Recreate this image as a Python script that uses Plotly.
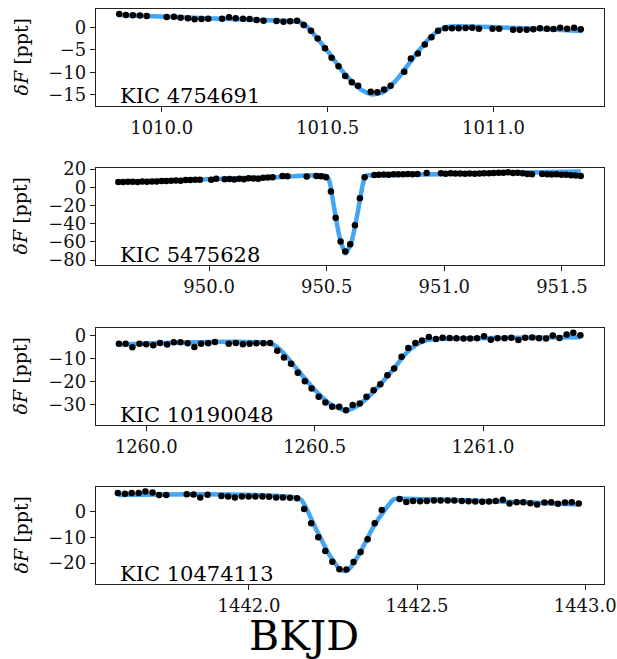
import plotly.graph_objects as go

# ---------------- data ----------------
names = ["KIC 4754691", "KIC 5475628", "KIC 10190048", "KIC 10474113"]

t1 = [1009.872, 1009.892, 1009.913, 1009.934, 1009.955, 1010.015, 1010.037, 1010.057, 1010.079, 1010.099,
      1010.120, 1010.140, 1010.182, 1010.203, 1010.223, 1010.245, 1010.265, 1010.286, 1010.307, 1010.346,
      1010.367, 1010.387, 1010.408, 1010.428, 1010.450, 1010.470, 1010.492, 1010.512, 1010.533, 1010.553,
      1010.573, 1010.592, 1010.630, 1010.650, 1010.670, 1010.690, 1010.731, 1010.751, 1010.772, 1010.793,
      1010.813, 1010.833, 1010.855, 1010.875, 1010.895, 1010.916, 1010.936, 1010.956, 1010.997, 1011.017,
      1011.059, 1011.079, 1011.100, 1011.120, 1011.140, 1011.161, 1011.181, 1011.201, 1011.222, 1011.243,
      1011.263]
f1 = [2.95, 2.75, 2.67, 2.6, 2.5, 2.3, 2.37, 2.15, 2.0, 1.78,
      1.85, 1.93, 1.93, 2.22, 2.0, 1.93, 1.85, 1.63, 1.48, 1.41,
      1.26, 1.33, 1.48, 0.52, -0.74, -2.5, -4.67, -6.74, -8.67, -10.8,
      -12.2, -13.0, -14.3, -14.4, -13.8, -13.0, -9.85, -6.9, -5.8, -3.8,
      -2.2, -0.74, -0.22, -0.22, -0.22, -0.15, -0.07, -0.3, -0.3, -0.3,
      -0.52, -0.52, -0.52, -0.44, -0.22, -0.3, -0.37, -0.07, -0.3, -0.07,
      -0.44]
m1x = [1009.872, 1010.140, 1010.408, 1010.425, 1010.45, 1010.50, 1010.55, 1010.60, 1010.635, 1010.67,
       1010.71, 1010.76, 1010.81, 1010.85, 1010.875, 1011.268]
m1y = [2.75, 2.0, 1.25, 0.9, -0.8, -5.3, -10.2, -13.8, -14.9, -14.3,
       -11.5, -6.6, -2.2, -0.1, 0.2, -0.8]

t2 = [949.614, 949.634, 949.655, 949.675, 949.696, 949.716, 949.736, 949.757, 949.777, 949.798,
      949.818, 949.839, 949.859, 949.879, 949.900, 949.920, 949.941, 949.961, 950.009, 950.030,
      950.066, 950.087, 950.107, 950.128, 950.148, 950.168, 950.189, 950.209, 950.230, 950.250,
      950.270, 950.312, 950.333, 950.415, 950.456, 950.476, 950.497, 950.518, 950.538, 950.559,
      950.579, 950.600, 950.620, 950.641, 950.661, 950.702, 950.722, 950.743, 950.763, 950.784,
      950.804, 950.825, 950.845, 950.865, 950.886, 950.925, 950.986, 951.006, 951.027, 951.047,
      951.067, 951.088, 951.108, 951.129, 951.149, 951.169, 951.190, 951.210, 951.231, 951.251,
      951.271, 951.292, 951.312, 951.333, 951.353, 951.373, 951.416, 951.437, 951.457, 951.477,
      951.498, 951.518, 951.539, 951.559, 951.580]
f2 = [6.0, 5.8, 6.3, 6.1, 5.9, 6.4, 6.2, 6.6, 6.5, 7.0,
      7.1, 7.3, 7.6, 7.4, 8.0, 8.2, 8.3, 8.5, 8.4, 9.6,
      8.9, 9.3, 8.7, 9.4, 9.0, 10.0, 9.8, 9.5, 10.6, 10.9,
      11.0, 12.4, 12.2, 11.9, 12.4, 12.1, 11.0, -4.5, -33.5, -59.5,
      -70.5, -62.5, -41.5, -12.0, 11.0, 13.5, 14.0, 14.2, 14.0, 14.3,
      14.5, 14.3, 14.6, 14.4, 14.7, 15.8, 15.6, 15.0, 15.4, 15.2,
      15.3, 15.0, 15.2, 15.1, 15.3, 15.5, 15.4, 15.8, 16.2, 16.0,
      16.5, 15.9, 16.1, 15.4, 14.8, 14.3, 14.6, 14.5, 14.2, 14.3,
      13.8, 13.9, 13.4, 13.0, 12.6]
m2x = [949.614, 950.0, 950.30, 950.50, 950.512, 950.53, 950.555, 950.58, 950.605, 950.63,
       950.655, 950.667, 950.70, 951.58]
m2y = [6.0, 9.0, 11.5, 12.3, 6.0, -20.0, -55.0, -72.5, -60.0, -30.0,
       5.0, 12.8, 13.1, 17.5]

t3 = [1259.919, 1259.939, 1259.959, 1259.980, 1260.000, 1260.021, 1260.041, 1260.062, 1260.082, 1260.102,
      1260.123, 1260.143, 1260.163, 1260.184, 1260.204, 1260.245, 1260.266, 1260.287, 1260.307, 1260.327,
      1260.348, 1260.368, 1260.389, 1260.409, 1260.430, 1260.450, 1260.471, 1260.491, 1260.512, 1260.532,
      1260.552, 1260.573, 1260.593, 1260.613, 1260.634, 1260.654, 1260.675, 1260.695, 1260.716, 1260.736,
      1260.758, 1260.778, 1260.799, 1260.819, 1260.839, 1260.860, 1260.880, 1260.901, 1260.921, 1260.942,
      1260.962, 1260.982, 1261.003, 1261.023, 1261.043, 1261.064, 1261.084, 1261.105, 1261.125, 1261.146,
      1261.166, 1261.187, 1261.207, 1261.227, 1261.248, 1261.268, 1261.289]
f3 = [-3.6, -3.6, -5.2, -3.6, -3.9, -4.3, -3.3, -4.0, -3.0, -3.0,
      -3.4, -5.0, -3.6, -3.4, -2.9, -3.6, -3.3, -3.9, -3.6, -3.4,
      -3.4, -3.3, -6.7, -9.6, -12.3, -16.1, -19.8, -23.0, -26.5, -29.0,
      -30.8, -30.8, -32.3, -30.1, -29.4, -26.5, -23.7, -21.1, -17.2, -14.3,
      -9.3, -5.5, -3.3, -2.2, -0.7, -1.6, -1.0, -1.15, -1.3, -1.4,
      -1.4, -1.3, -0.4, -1.9, -1.3, -1.3, -1.0, -2.0, -1.0, -0.9,
      -1.3, -1.4, -0.1, -1.15, 0.4, 1.1, 0.0]
m3x = [1259.919, 1260.37, 1260.40, 1260.45, 1260.50, 1260.55, 1260.59, 1260.62, 1260.66, 1260.72,
       1260.78, 1260.82, 1260.845, 1261.289]
m3y = [-4.0, -3.6, -6.5, -15.0, -23.5, -30.0, -32.3, -31.0, -26.5, -17.0,
       -6.5, -2.6, -1.8, -0.8]

t4 = [1441.610, 1441.631, 1441.651, 1441.672, 1441.692, 1441.713, 1441.733, 1441.754, 1441.815, 1441.835,
      1441.855, 1441.877, 1441.918, 1441.938, 1441.958, 1441.979, 1441.999, 1442.019, 1442.040, 1442.060,
      1442.081, 1442.101, 1442.122, 1442.143, 1442.164, 1442.185, 1442.206, 1442.227, 1442.248, 1442.269,
      1442.290, 1442.311, 1442.332, 1442.353, 1442.374, 1442.395, 1442.448, 1442.468, 1442.488, 1442.509,
      1442.529, 1442.550, 1442.570, 1442.591, 1442.611, 1442.633, 1442.653, 1442.673, 1442.694, 1442.714,
      1442.734, 1442.755, 1442.775, 1442.796, 1442.816, 1442.837, 1442.857, 1442.879, 1442.899, 1442.919,
      1442.940, 1442.960, 1442.981]
f4 = [7.0, 6.75, 7.0, 7.0, 7.66, 7.27, 6.23, 6.23, 6.6, 6.5,
      5.3, 6.4, 5.84, 5.7, 5.3, 5.7, 5.7, 5.7, 5.7, 5.6,
      5.3, 5.3, 5.2, 5.06, 0.9, -4.6, -10.0, -15.3, -19.5, -22.4,
      -22.5, -19.6, -15.7, -10.8, -4.6, 0.5, 4.7, 3.6, 4.0, 3.9,
      4.0, 4.16, 4.16, 4.16, 4.16, 4.0, 3.9, 3.77, 3.64, 3.77,
      4.0, 4.4, 3.0, 3.5, 3.5, 3.1, 2.6, 3.4, 3.5, 2.86,
      3.4, 3.5, 3.0]
m4x = [1441.610, 1442.150, 1442.165, 1442.20, 1442.24, 1442.27, 1442.285, 1442.30, 1442.33, 1442.37,
       1442.41, 1442.43, 1442.445, 1442.981]
m4y = [6.3, 4.9, 2.5, -7.0, -17.0, -22.2, -23.0, -22.0, -16.0, -6.0,
       1.5, 4.5, 4.8, 2.6]

xranges = [[1009.802, 1011.333], [949.519, 951.679], [1259.851, 1261.359], [1441.545, 1443.056]]
yranges = [[-17.48, 4.07], [-85.3, 21.3], [-38.7, 3.16], [-28.05, 9.35]]
xticks = [[1010.0, 1010.5, 1011.0], [950.0, 950.5, 951.0, 951.5],
          [1260.0, 1260.5, 1261.0], [1442.0, 1442.5, 1443.0]]
xticklabels = [["1010.0", "1010.5", "1011.0"], ["950.0", "950.5", "951.0", "951.5"],
               ["1260.0", "1260.5", "1261.0"], ["1442.0", "1442.5", "1443.0"]]
yticks = [[0, -5, -10, -15], [20, 0, -20, -40, -60, -80], [0, -10, -20, -30], [0, -10, -20]]
yticklabels = [["0", "\u22125", "\u221210", "\u221215"],
               ["20", "0", "\u221220", "\u221240", "\u221260", "\u221280"],
               ["0", "\u221210", "\u221220", "\u221230"],
               ["0", "\u221210", "\u221220"]]

times = [t1, t2, t3, t4]
fluxes = [f1, f2, f3, f4]
mxs = [m1x, m2x, m3x, m4x]
mys = [m1y, m2y, m3y, m4y]

# ---------------- layout geometry (page pixels; body margin removed) ----------------
W, H = 617, 659
x_dom = [96.0 / W, 604.0 / W]
panel_px = [(9, 106), (168, 265), (328, 425), (487, 584)]  # top, bottom in pixels
FONT = "DejaVu Serif"
LINE_BLUE = "#42a5f5"

fig = go.Figure()
layout = dict(
    template="none",
    width=W, height=H, autosize=False,
    margin=dict(l=0, r=0, t=0, b=0, autoexpand=False),
    paper_bgcolor="white", plot_bgcolor="white",
    showlegend=False,
    font=dict(family=FONT, size=18, color="black"),
)
annotations = []

for i in range(4):
    xa = "x" if i == 0 else f"x{i+1}"
    ya = "y" if i == 0 else f"y{i+1}"
    fig.add_trace(go.Scatter(x=mxs[i], y=mys[i], mode="lines",
                             line=dict(color=LINE_BLUE, width=4.5, shape="spline", smoothing=0.7),
                             xaxis=xa, yaxis=ya, hoverinfo="skip"))
    fig.add_trace(go.Scatter(x=times[i], y=fluxes[i], mode="markers",
                             marker=dict(color="black", size=6.5),
                             xaxis=xa, yaxis=ya))
    top, bot = panel_px[i]
    ydom = [1 - bot / H, 1 - top / H]
    axkw = dict(showline=True, mirror=True, linecolor="#222222", linewidth=1.3,
                ticks="outside", ticklen=5, tickwidth=1.2, tickcolor="#222222",
                showgrid=False, zeroline=False, automargin=False,
                ticklabeloverflow="allow",
                tickfont=dict(family=FONT, size=18, color="#111111"))
    layout["xaxis" if i == 0 else f"xaxis{i+1}"] = dict(
        domain=x_dom, anchor=ya, range=xranges[i],
        tickmode="array", tickvals=xticks[i], ticktext=xticklabels[i], **axkw)
    layout["yaxis" if i == 0 else f"yaxis{i+1}"] = dict(
        domain=ydom, anchor=xa, range=yranges[i],
        tickmode="array", tickvals=yticks[i], ticktext=yticklabels[i], **axkw)
    # star label
    annotations.append(dict(text=names[i], xref=f"{xa} domain", yref=f"{ya} domain",
                            x=0.044, y=-0.04, xanchor="left", yanchor="bottom", showarrow=False,
                            font=dict(family=FONT, size=21, color="black")))
    # y label
    annotations.append(dict(text="<i>\u03b4F</i> [ppt]", xref="paper", yref="paper",
                            x=20.0 / W, y=(ydom[0] + ydom[1]) / 2, xanchor="center", yanchor="middle",
                            textangle=-90, showarrow=False,
                            font=dict(family=FONT, size=19, color="black")))

annotations.append(dict(text="BKJD", xref="paper", yref="paper", x=304.0 / W, y=1 - 636.0 / H,
                        xanchor="center", yanchor="middle", showarrow=False,
                        font=dict(family=FONT, size=41, color="black")))
layout["annotations"] = annotations
fig.update_layout(**layout)
fig.write_html("out.html", config={"displayModeBar": False},
               post_script="document.body.style.margin='0';document.body.style.overflow='hidden';")
